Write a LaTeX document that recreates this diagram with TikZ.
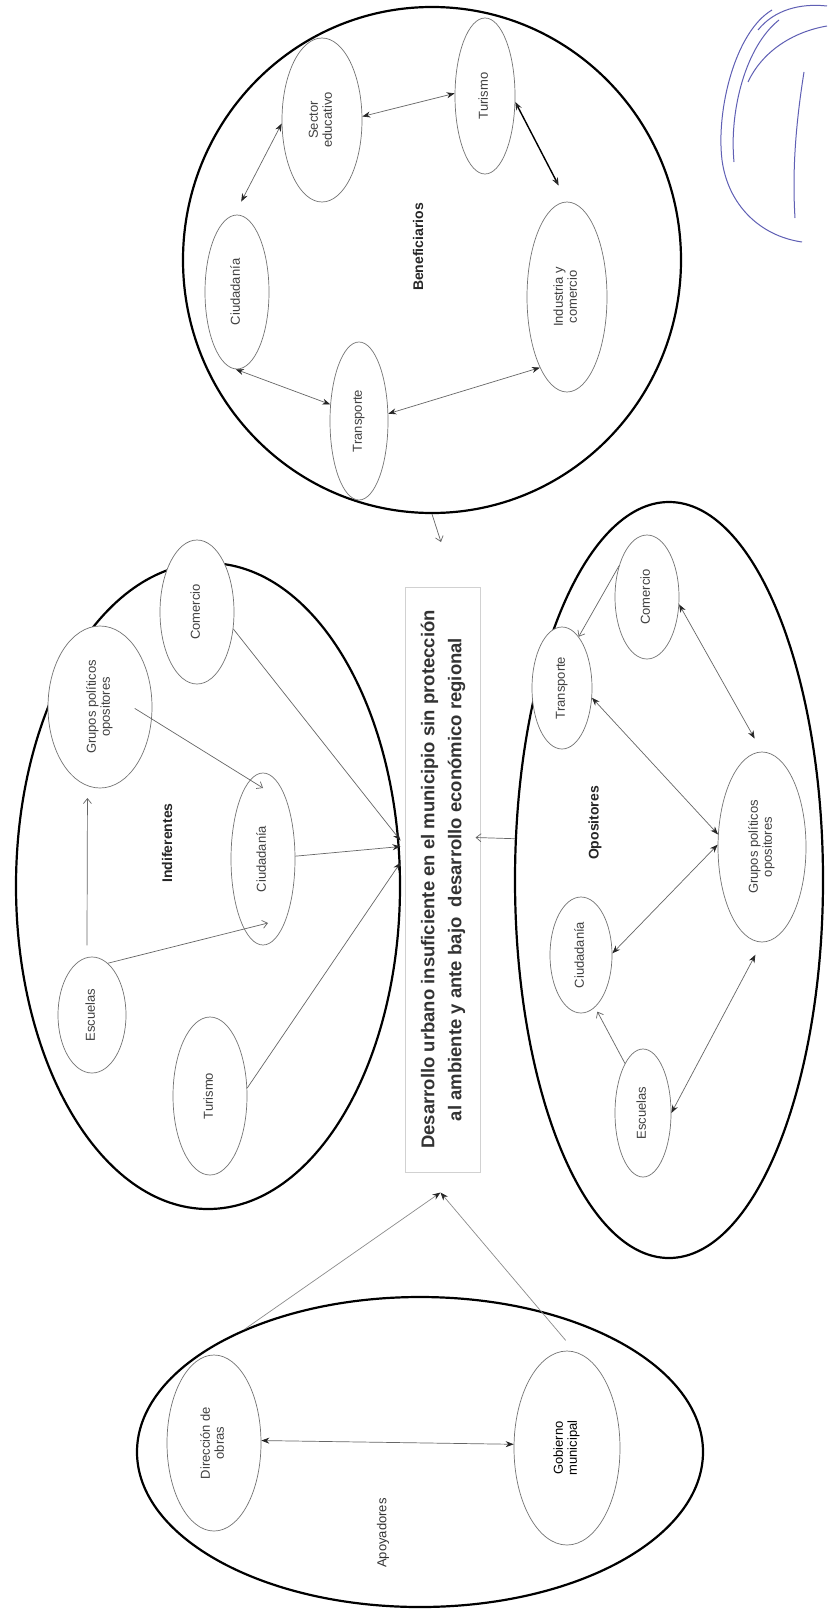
\documentclass[tikz,border=0pt]{standalone}
\usepackage{fontspec}
\setmainfont{Liberation Sans}
\usetikzlibrary{shapes.geometric,arrows.meta}
\definecolor{sigblue}{RGB}{95,95,180}
\newcommand\vtext[1]{\rotatebox{90}{\begin{tabular}{@{}c@{}}#1\end{tabular}}}
\begin{document}
\begin{tikzpicture}[x=1pt,y=-1pt,
  big/.style={ellipse,draw=black,line width=2.2pt,inner sep=0pt},
  sm/.style={ellipse,draw=black!55,line width=0.7pt,fill=white,inner sep=0pt,
    font=\fontsize{13}{14}\selectfont,text=black!75},
  grp/.style={rotate=90,font=\bfseries\fontsize{14}{15}\selectfont,text=black!85},
  ln/.style={draw=black!60,line width=0.7pt},
  dbl/.style={ln,{Stealth[length=8pt,width=6pt,black!85]}-{Stealth[length=8pt,width=6pt,black!85]}},
  one/.style={ln,-{Stealth[length=8pt,width=6pt,black!85]}},
  opn/.style={ln,-{Straight Barb[length=5pt,width=8pt]}},
  sig/.style={draw=sigblue,line width=1pt}
]
\fill[white] (0,0) rectangle (827,1619);
\useasboundingbox (0,0) rectangle (827,1619);

% ---------- Beneficiarios
\node[big,minimum width=498,minimum height=506] (ben) at (432,260) {};
\node[sm,minimum width=80,minimum height=164] (bSE) at (322,120) {\vtext{Sector\\educativo}};
\node[sm,minimum width=60,minimum height=156] (bTu) at (485,96) {\vtext{Turismo}};
\node[sm,minimum width=64,minimum height=154] (bCi) at (237,292) {\vtext{Ciudadanía}};
\node[sm,minimum width=80,minimum height=190] (bIn) at (567,297) {\vtext{Industria y\\comercio}};
\node[sm,minimum width=58,minimum height=158] (bTr) at (359,421) {\vtext{Transporte}};
\node[grp] (lBen) at (418,247) {Beneficiarios};

\draw[dbl,shorten <=15pt] (bCi.92) -- (bSE.185);
\draw[dbl] (bSE.5) -- (bTu.175);
\draw[dbl,draw=black,line width=1.4pt,shorten >=18pt] (bTu.-11) -- (bIn.90);
\draw[dbl] (bIn.249) -- (bTr.14);
\draw[dbl] (bCi.269) -- (bTr.150);
\coordinate (benTip) at (441,542);
\draw[opn] (ben.south) -- (benTip);

% ---------- Indiferentes
\node[big,minimum width=384,minimum height=646] (ind) at (208,886) {};
\node[sm,minimum width=74,minimum height=144] (iCo) at (197,612) {\vtext{Comercio}};
\node[sm,minimum width=104,minimum height=162] (iGr) at (100,707) {\vtext{Grupos políticos\\opositores}};
\node[sm,minimum width=64,minimum height=172] (iCi) at (263,859) {\vtext{Ciudadanía}};
\node[sm,minimum width=68,minimum height=116] (iEs) at (92,1015) {\vtext{Escuelas}};
\node[sm,minimum width=74,minimum height=158] (iTu) at (210,1096) {\vtext{Turismo}};
\node[grp] (lInd) at (167,843) {Indiferentes};

% ---------- central box
\node[draw=black!18,line width=1pt,minimum width=75,minimum height=585,inner sep=0pt,
  font=\bfseries\fontsize{18.5}{27}\selectfont,text=black!80] (box) at (442.5,879.5)
  {\vtext{Desarrollo urbano insuficiente en el municipio sin protección\\al ambiente y ante bajo \ desarrollo económico regional}};

\draw[opn,shorten <=12pt,shorten >=12pt] (iEs.95) -- (iGr.261);
\draw[opn,shorten <=-20pt] (iGr.-13) -- ([shift={(0,-71)}]iCi.center);
\draw[opn] (iEs.73) -- ([shift={(5,64)}]iCi.center);
\draw[one] (iCo.-25) -- ([shift={(-4,-39)}]box.west);
\draw[one] (iCi.5) -- ([shift={(-4,-33)}]box.west);
\draw[one] (iTu.12) -- ([shift={(-4,-17)}]box.west);

% ---------- Opositores
\node[big,minimum width=308,minimum height=756] (op) at (669,880) {};
\node[sm,minimum width=64,minimum height=124] (oCo) at (647,597) {\vtext{Comercio}};
\node[sm,minimum width=60,minimum height=122] (oTr) at (562,688) {\vtext{Transporte}};
\node[sm,minimum width=88,minimum height=190] (oGr) at (762,847) {\vtext{Grupos políticos\\opositores}};
\node[sm,minimum width=62,minimum height=116] (oCi) at (581,955) {\vtext{Ciudadanía}};
\node[sm,minimum width=56,minimum height=128] (oEs) at (643,1113) {\vtext{Escuelas}};
\node[grp] (lOp) at (595,823) {Opositores};

\draw[opn] (oCo.132) -- (oTr.72);
\draw[dbl,shorten >=15pt] (oCo.-13) -- (oGr.north);
\draw[dbl] (oTr.-18) -- (oGr.164);
\draw[dbl] (oCi.3) -- (oGr.177);
\draw[dbl,shorten >=14pt] (oEs.east) -- (oGr.south);
\draw[opn,shorten >=5pt] (oEs.110) -- (oCi.-75);
\draw[opn] (op.165) -- ([shift={(-5,-42)}]box.east);

% ---------- Apoyadores
\node[big,minimum width=566,minimum height=310] (ap) at (420,1452) {};
\node[sm,minimum width=94,minimum height=176] (aDi) at (214,1443) {\vtext{Dirección de\\obras}};
\node[sm,minimum width=106,minimum height=194,text=black] (aGo) at (567,1448) {\vtext{Gobierno\\municipal}};
\node[rotate=90,font=\fontsize{13}{14}\selectfont,text=black!80] (lAp) at (383,1533) {Apoyadores};

\draw[dbl] (aDi.3) -- (aGo.176);
\draw[one,draw=black!45] (ap.145) -- ([shift={(-2,20)}]box.south);
\draw[one,draw=black!45,shorten <=15pt] (aGo.85) -- ([shift={(-2,20)}]box.south);

% ---------- signature
\draw[sig] (772,10) .. controls (735,32) and (716,110) .. (722,160) .. controls (728,205) and (760,236) .. (802,242);
\draw[sig] (779,20) .. controls (746,46) and (729,110) .. (734,162);
\draw[sig] (748,82) .. controls (762,52) and (792,32) .. (827,26);
\draw[sig] (804,72) .. controls (796,122) and (792,170) .. (795,218);
\draw[sig] (758,30) .. controls (774,10) and (800,3) .. (827,6);
\end{tikzpicture}
\end{document}
